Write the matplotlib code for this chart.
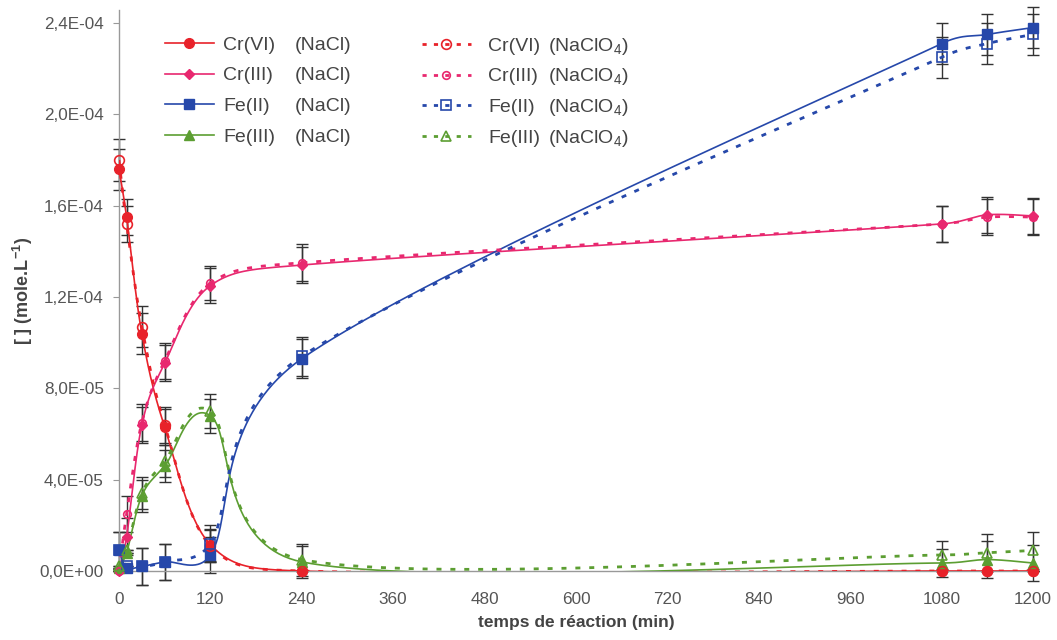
import numpy as np
import matplotlib
matplotlib.use("Agg")
import matplotlib.pyplot as plt
from matplotlib.ticker import FuncFormatter

plt.rcParams['font.family'] = ['Liberation Sans', 'DejaVu Sans']
plt.rcParams['mathtext.fontset'] = 'custom'
plt.rcParams['mathtext.rm'] = 'Liberation Sans'
plt.rcParams['mathtext.it'] = 'Liberation Sans:italic'
plt.rcParams['mathtext.bf'] = 'Liberation Sans:bold'

# ---- data ----
t = [0, 10, 30, 60, 120, 240, 1080, 1140, 1200]

crvi_nacl = [1.76e-4, 1.55e-4, 1.04e-4, 6.3e-5, 1.15e-5, 0.0, 0.0, 0.0, 0.0]
crvi_naclo4 = [1.80e-4, 1.52e-4, 1.07e-4, 6.4e-5, 1.1e-5, 0.0, 0.0, 0.0, 0.0]
criii_nacl = [0.0, 1.5e-5, 6.4e-5, 9.1e-5, 1.25e-4, 1.34e-4, 1.52e-4, 1.56e-4, 1.555e-4]
criii_naclo4 = [0.0, 2.5e-5, 6.5e-5, 9.2e-5, 1.26e-4, 1.35e-4, 1.52e-4, 1.55e-4, 1.55e-4]
feii_nacl = [9e-6, 1.5e-6, 2e-6, 4e-6, 7e-6, 9.3e-5, 2.31e-4, 2.35e-4, 2.38e-4]
feii_naclo4 = [9e-6, 2e-6, 2e-6, 4e-6, 1.2e-5, 9.4e-5, 2.25e-4, 2.31e-4, 2.35e-4]
feiii_nacl = [1.5e-6, 8e-6, 3.3e-5, 4.6e-5, 6.8e-5, 4e-6, 3.5e-6, 5e-6, 3.5e-6]
feiii_naclo4 = [2e-6, 9e-6, 3.4e-5, 4.8e-5, 7.0e-5, 5e-6, 7e-6, 8e-6, 9e-6]

err_crvi = [9e-6, 8e-6, 9e-6, 8e-6, 7e-6, 0, 0, 0, 0]
err_criii = [0, 8e-6, 8e-6, 8e-6, 7.5e-6, 8e-6, 8e-6, 8e-6, 8e-6]
err_feii = [8e-6, 0, 8e-6, 8e-6, 8e-6, 8.5e-6, 9e-6, 9e-6, 9e-6]
err_feiii = [0, 0, 7e-6, 7e-6, 7.5e-6, 7e-6, 6e-6, 8e-6, 8e-6]

species = ['Cr(VI)', 'Cr(III)', 'Fe(II)', 'Fe(III)']
media = ['(NaCl)', '(NaClO$_4$)']

xticks = [0, 120, 240, 360, 480, 600, 720, 840, 960, 1080, 1200]
yticks = [0, 4e-5, 8e-5, 1.2e-4, 1.6e-4, 2.0e-4, 2.4e-4]

C_RED = '#e8222a'
C_PINK = '#e8286f'
C_BLUE = '#2648aa'
C_GREEN = '#5c9e32'
C_ERR = '#333333'

fig = plt.figure(figsize=(10.57, 6.40), dpi=100)
ax = fig.add_axes([119/1057, 1-571/640, (1033-119)/1057, (571-10)/640])
ax.set_xlim(0, 1200)
ax.set_ylim(0, 2.4e-4 * 561/548)


def smooth(x, y, n=40):
    """Excel-like Bezier smoothing computed in display space."""
    pts = ax.transData.transform(np.column_stack([x, y]).astype(float))
    out = [pts[0]]
    m = len(pts)
    for i in range(m - 1):
        p0 = pts[i - 1] if i > 0 else pts[i]
        p1 = pts[i]
        p2 = pts[i + 1]
        p3 = pts[i + 2] if i + 2 < m else pts[i + 1]
        d12 = np.hypot(*(p2 - p1))
        d02 = np.hypot(*(p2 - p0))
        d13 = np.hypot(*(p3 - p1))
        f1 = 1/6
        f2 = 1/6
        if d02 / 6 >= d12 / 2 and d02 > 0:
            f1 = d12 / 2 / d02
        if d13 / 6 >= d12 / 2 and d13 > 0:
            f2 = d12 / 2 / d13
        c1 = p1 + (p2 - p0) * f1
        c2 = p2 - (p3 - p1) * f2
        s = np.linspace(0, 1, n)[1:, None]
        seg = (1-s)**3*p1 + 3*(1-s)**2*s*c1 + 3*(1-s)*s**2*c2 + s**3*p2
        out.extend(seg)
    out = np.array(out)
    d = ax.transData.inverted().transform(out)
    return d[:, 0], d[:, 1]


series = [
    (crvi_nacl, err_crvi, C_RED, 'o', 7, True),
    (criii_nacl, err_criii, C_PINK, 'D', 5.2, True),
    (feii_nacl, err_feii, C_BLUE, 's', 6.5, True),
    (feiii_nacl, err_feiii, C_GREEN, '^', 6.5, True),
    (crvi_naclo4, err_crvi, C_RED, 'o', 7, False),
    (criii_naclo4, err_criii, C_PINK, 'o', 5.5, False),
    (feii_naclo4, err_feii, C_BLUE, 's', 6.5, False),
    (feiii_naclo4, err_feiii, C_GREEN, '^', 6.5, False),
]

DASH = (0, (1.8, 3.2))
handles = []
for k, (y, e, c, mk, ms, solid) in enumerate(series):
    lab = species[k % 4]
    ax.errorbar(t, y, yerr=e, fmt='none', ecolor=C_ERR, elinewidth=1.0,
                capsize=4.5, capthick=1.0, zorder=2, clip_on=False)
    xs, ys = smooth(t, y)
    if solid:
        ax.plot(xs, ys, color=c, lw=1.2, zorder=3, clip_on=True)
        ax.plot(t, y, linestyle='none', marker=mk, ms=ms, color=c,
                mec=c, zorder=4, clip_on=False)
        h, = ax.plot([], [], color=c, lw=1.2, marker=mk, ms=ms, mec=c, label=lab)
    else:
        ax.plot(xs, ys, color=c, lw=2.0, linestyle=DASH, zorder=3,
                clip_on=True)
        ax.plot(t, y, linestyle='none', marker=mk, ms=ms, mfc='none',
                mec=c, mew=1.2, zorder=4, clip_on=False)
        h, = ax.plot([], [], color=c, lw=2.0, linestyle=(0, (1.5, 2.6)),
                     marker=mk, ms=ms, mfc='none', mec=c, mew=1.2, label=lab)
    handles.append(h)

for sp in ['top', 'right']:
    ax.spines[sp].set_visible(False)
for sp in ['left', 'bottom']:
    ax.spines[sp].set_color('#999999')
    ax.spines[sp].set_linewidth(1.0)

ax.set_xticks(xticks)
ax.set_yticks(yticks)


def yfmt(v, pos):
    if v == 0:
        return '0,0E+00'
    s = '%.1E' % v
    return s.replace('.', ',')


ax.yaxis.set_major_formatter(FuncFormatter(yfmt))
ax.tick_params(axis='both', colors='#999999', labelcolor='#555555',
               labelsize=12.3, direction='out')
ax.tick_params(axis='y', length=4, pad=7)
ax.tick_params(axis='x', length=0, pad=15)

ax.set_xlabel('temps de réaction (min)', fontsize=12.5, fontweight='bold',
              color='#444444', labelpad=6)
ax.set_ylabel('[ ] (mole.L$^{\\mathbf{-1}}$)', fontsize=13, fontweight='bold',
              color='#444444', labelpad=3)

FS = 14
leg_kw = dict(frameon=False, fontsize=FS, handlelength=2.5,
              borderpad=0, borderaxespad=0, loc='upper left',
              labelcolor='#444444')
leg1 = fig.legend(handles=handles[:4], bbox_to_anchor=(165/1057, 1-36/640),
                  handletextpad=0.5, labelspacing=0.68, **leg_kw)
leg2 = fig.legend(handles=handles[4:], bbox_to_anchor=(422/1057, 1-37/640),
                  handletextpad=0.9, labelspacing=0.68, **leg_kw)

# aligned second part of legend labels (tab-like column)
fig.canvas.draw()
inv = fig.transFigure.inverted()
for leg, xcol, med in [(leg1, 295, media[0]), (leg2, 548, media[1])]:
    for txt in leg.get_texts():
        px, py = txt.get_transform().transform(txt.get_position())
        fx, fy = inv.transform((xcol, py))
        fig.text(xcol / 1057, fy, med, fontsize=FS, color='#444444',
                 ha='left', va=txt.get_va())

fig.savefig('out.png', dpi=100)
